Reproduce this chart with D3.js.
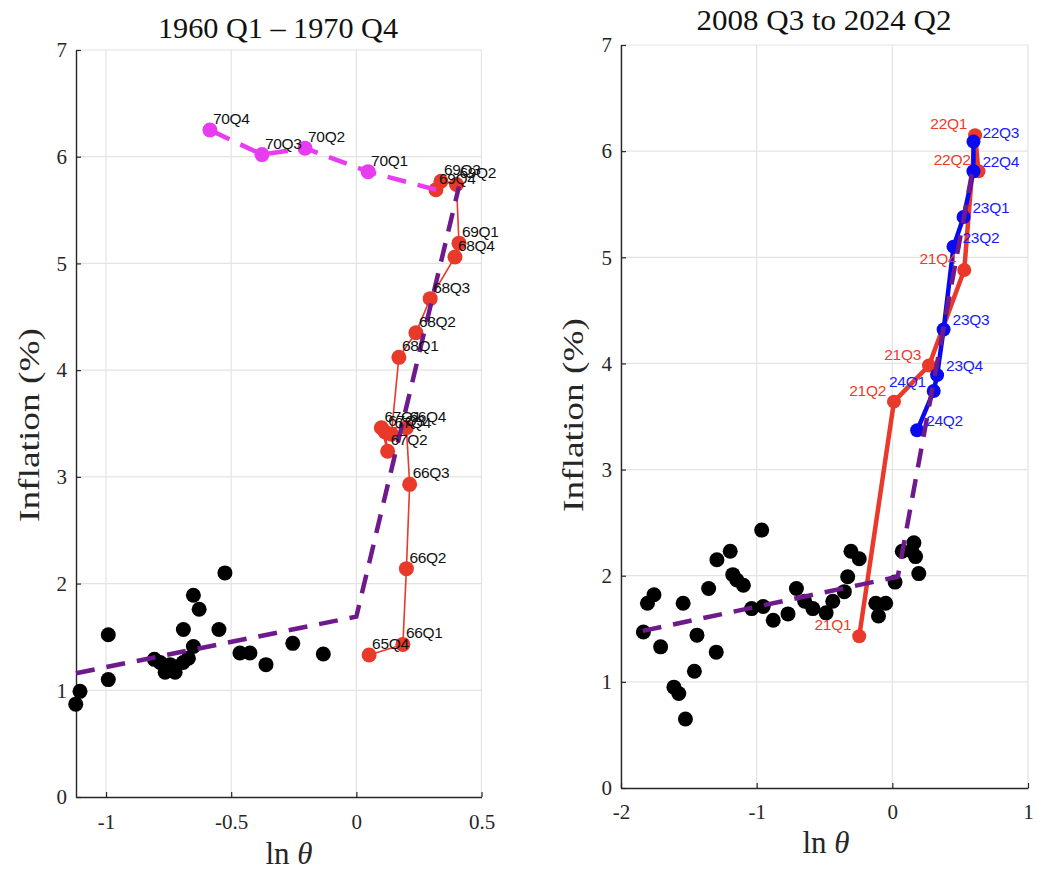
<!DOCTYPE html>
<html>
<head>
<meta charset="utf-8">
<script src="https://cdn.jsdelivr.net/npm/d3@7"></script>
<style>
  body { margin: 0; background: #fff; }
  svg { display: block; }
</style>
</head>
<body>
<div id="chart-container"></div>
<script>
(function () {
    'use strict';

    // ---- left panel data: 1960 Q1 - 1970 Q4 ----
    var leftBlackX = [-1.121, -1.104, -0.991, -0.991, -0.807, -0.764, -0.724, -0.744, -0.784, -0.692,
                      -0.691, -0.671, -0.651, -0.651, -0.628, -0.525, -0.549, -0.465, -0.425, -0.361,
                      -0.254, -0.132];
    var leftBlackY = [0.87, 0.99, 1.52, 1.10, 1.29, 1.17, 1.17, 1.24, 1.26, 1.26,
                      1.57, 1.30, 1.41, 1.89, 1.76, 2.10, 1.57, 1.35, 1.35, 1.24,
                      1.44, 1.34];

    var leftRedLabels = ['65Q4', '66Q1', '66Q2', '66Q3', '66Q4', '67Q1', '67Q2', '67Q3', '67Q4',
                         '68Q1', '68Q2', '68Q3', '68Q4', '69Q1', '69Q2', '69Q3', '69Q4'];
    var leftRedX = [0.051, 0.186, 0.200, 0.213, 0.200, 0.100, 0.125, 0.115, 0.140,
                    0.170, 0.238, 0.295, 0.394, 0.410, 0.400, 0.338, 0.318];
    var leftRedY = [1.33, 1.43, 2.14, 2.93, 3.46, 3.46, 3.24, 3.42, 3.40,
                    4.12, 4.35, 4.67, 5.06, 5.19, 5.74, 5.77, 5.69];

    // 1970 points, the dashed magenta path starts from 69Q4
    var leftMagLabels = ['70Q1', '70Q2', '70Q3', '70Q4'];
    var leftMagX = [0.047, -0.205, -0.377, -0.585];
    var leftMagY = [5.86, 6.08, 6.02, 6.25];

    var leftFitX = [-1.12, 0, 0.41];
    var leftFitY = [1.16, 1.69, 5.72];

    var leftXTicks = [-1, -0.5, 0, 0.5];
    var yTicks = [0, 1, 2, 3, 4, 5, 6, 7];

    // ---- right panel data: 2008 Q3 to 2024 Q2 ----
    var rightBlackX = [-1.835, -1.805, -1.757, -1.708, -1.610, -1.574, -1.525, -1.542, -1.440, -1.459,
                       -1.298, -1.354, -1.293, -1.195, -1.176, -1.098, -1.146, -0.963, -1.037, -0.952,
                       -0.878, -0.769, -0.707, -0.646, -0.586, -0.488, -0.439, -0.354, -0.329, -0.305,
                       -0.244, -0.122, -0.049, -0.102, 0.020, 0.073, 0.159, 0.171, 0.195, 0.144];
    var rightBlackY = [1.47, 1.74, 1.82, 1.33, 0.95, 0.89, 0.65, 1.74, 1.44, 1.10,
                       1.28, 1.88, 2.15, 2.23, 2.01, 1.91, 1.96, 2.43, 1.69, 1.71,
                       1.58, 1.64, 1.88, 1.76, 1.69, 1.65, 1.76, 1.85, 1.99, 2.23,
                       2.16, 1.74, 1.74, 1.62, 1.94, 2.23, 2.31, 2.18, 2.02, 2.23];

    var rightRedLabels = ['21Q1', '21Q2', '21Q3', '21Q4', '22Q1', '22Q2'];
    var rightRedX = [-0.244, 0.012, 0.270, 0.530, 0.610, 0.635];
    var rightRedY = [1.43, 3.64, 3.98, 4.88, 6.15, 5.81];

    var rightBlueLabels = ['22Q3', '22Q4', '23Q1', '23Q2', '23Q3', '23Q4', '24Q1', '24Q2'];
    var rightBlueX = [0.598, 0.598, 0.525, 0.451, 0.378, 0.330, 0.305, 0.183];
    var rightBlueY = [6.09, 5.81, 5.38, 5.10, 4.32, 3.89, 3.74, 3.37];
    var blueLabelsOnLeft = ['24Q1'];

    var rightFitX = [-1.84, 0.04, 0.6];
    var rightFitY = [1.48, 1.99, 5.88];

    var rightXTicks = [-2, -1, 0, 1];

    var RED = '#e8392a';
    var MAGENTA = '#e83cf0';
    var PURPLE = '#6e1a8c';
    var BLUE = '#0a0af0';

    var width = 1038;
    var height = 873;

    var svg = d3.select('#chart-container')
        .append('svg')
        .attr('width', width)
        .attr('height', height);

    function zip(xs, ys, labels) {
        return xs.map(function (x, i) {
            return { x: x, y: ys[i], label: labels ? labels[i] : null };
        });
    }

    function fmt(d) {
        return String(d).replace('\u2212', '-');
    }

    function drawPanel(p) {
        var x = d3.scaleLinear().domain(p.xDomain).range([p.left, p.right]);
        var y = d3.scaleLinear().domain([0, 7]).range([p.bottom, p.top]);
        var g = svg.append('g');

        // grid
        g.append('g').selectAll('line.vg')
            .data(p.xTicks).enter().append('line')
            .attr('x1', function (d) { return x(d); })
            .attr('x2', function (d) { return x(d); })
            .attr('y1', p.top).attr('y2', p.bottom)
            .style('stroke', '#e3e3e3').style('stroke-width', 1.2);
        g.append('g').selectAll('line.hg')
            .data(yTicks.slice(1)).enter().append('line')
            .attr('x1', p.left).attr('x2', p.right)
            .attr('y1', function (d) { return y(d); })
            .attr('y2', function (d) { return y(d); })
            .style('stroke', '#e3e3e3').style('stroke-width', 1.2);

        // axes
        var ax = g.append('g')
            .attr('transform', 'translate(0,' + p.bottom + ')')
            .call(d3.axisBottom(x).tickValues(p.xTicks).tickFormat(fmt)
                .tickSizeInner(-5).tickSizeOuter(0).tickPadding(p.xPad));
        var ay = g.append('g')
            .attr('transform', 'translate(' + p.left + ',0)')
            .call(d3.axisLeft(y).tickValues(yTicks).tickFormat(fmt)
                .tickSizeInner(-5).tickSizeOuter(0).tickPadding(9));
        [ax, ay].forEach(function (a) {
            a.select('.domain').style('stroke', '#262626').style('stroke-width', 1.4);
            a.selectAll('.tick line').style('stroke', '#262626').style('stroke-width', 1.2);
            a.selectAll('text')
                .style('font-family', '"Liberation Serif", serif')
                .style('font-size', '21px')
                .style('fill', '#262626');
        });

        // black points
        g.append('g').selectAll('circle')
            .data(zip(p.blackX, p.blackY)).enter().append('circle')
            .attr('cx', function (d) { return x(d.x); })
            .attr('cy', function (d) { return y(d.y); })
            .attr('r', 7.5)
            .style('fill', '#000');

        var line = d3.line()
            .x(function (d) { return x(d.x); })
            .y(function (d) { return y(d.y); });

        p.series.forEach(function (s) {
            var pts = zip(s.x, s.y, s.labels);
            var lg = g.append('g');
            if (s.pathLead) {
                lg.append('path')
                    .attr('d', line([s.pathLead].concat(pts)))
                    .style('fill', 'none')
                    .style('stroke', s.color)
                    .style('stroke-width', s.lineWidth)
                    .style('stroke-dasharray', s.dash || null);
            } else {
                lg.append('path')
                    .attr('d', line(pts))
                    .style('fill', 'none')
                    .style('stroke', s.color)
                    .style('stroke-width', s.lineWidth);
            }
            lg.selectAll('circle')
                .data(pts).enter().append('circle')
                .attr('cx', function (d) { return x(d.x); })
                .attr('cy', function (d) { return y(d.y); })
                .attr('r', s.r)
                .style('fill', s.color);
            s.pts = pts;
        });

        // piecewise fit
        g.append('path')
            .attr('d', line(zip(p.fitX, p.fitY)))
            .style('fill', 'none')
            .style('stroke', PURPLE)
            .style('stroke-width', 4.5)
            .style('stroke-dasharray', '19,12');

        // point labels
        p.series.forEach(function (s) {
            function onLeft(d) {
                return s.labelSide === 'left' || (s.leftSet && s.leftSet.indexOf(d.label) >= 0);
            }
            g.append('g').selectAll('text')
                .data(s.pts).enter().append('text')
                .attr('x', function (d) { return x(d.x) + (onLeft(d) ? -8 : s.labelDx); })
                .attr('y', function (d) { return y(d.y) + s.labelDy; })
                .attr('text-anchor', function (d) { return onLeft(d) ? 'end' : 'start'; })
                .style('font-family', '"Liberation Sans", Arial, sans-serif')
                .style('font-size', '15.5px')
                .style('letter-spacing', '-0.3px')
                .style('fill', s.labelColor)
                .text(function (d) { return d.label; });
        });

        // titles and axis labels
        svg.append('text')
            .attr('x', p.titleX).attr('y', p.titleY)
            .attr('text-anchor', 'middle')
            .attr('textLength', p.titleLen)
            .attr('lengthAdjust', 'spacingAndGlyphs')
            .style('font-family', '"Liberation Serif", serif')
            .style('font-size', '29px')
            .style('fill', '#111')
            .text(p.title);

        svg.append('text')
            .attr('transform', 'translate(' + p.ylabX + ',' + p.ylabY + ') rotate(-90)')
            .attr('text-anchor', 'middle')
            .attr('dy', '0.35em')
            .attr('textLength', 194)
            .attr('lengthAdjust', 'spacingAndGlyphs')
            .style('font-family', '"Liberation Serif", serif')
            .style('font-size', '30px')
            .style('fill', '#262626')
            .text('Inflation (%)');

        var xl = svg.append('text')
            .attr('x', p.xlabX).attr('y', p.xlabY)
            .attr('text-anchor', 'middle')
            .style('font-family', '"Liberation Serif", serif')
            .style('font-size', '31px')
            .style('fill', '#262626');
        xl.append('tspan').text('ln ');
        xl.append('tspan').style('font-style', 'italic').text('\u03b8');
    }

    drawPanel({
        left: 76, right: 481.5, top: 50, bottom: 797,
        xDomain: [-1.12, 0.5],
        xTicks: leftXTicks, xPad: 17,
        blackX: leftBlackX, blackY: leftBlackY,
        fitX: leftFitX, fitY: leftFitY,
        series: [
            { x: leftRedX, y: leftRedY, labels: leftRedLabels, color: RED, lineWidth: 1.6, r: 7.5,
              labelColor: '#111', labelDx: 3, labelDy: -6 },
            { x: leftMagX, y: leftMagY, labels: leftMagLabels, color: MAGENTA, lineWidth: 4.5, r: 7.5,
              dash: '19,12',
              pathLead: { x: leftRedX[leftRedX.length - 1], y: leftRedY[leftRedY.length - 1] },
              labelColor: '#111', labelDx: 3, labelDy: -6 }
        ],
        title: '1960 Q1 \u2013 1970 Q4', titleX: 278, titleY: 38, titleLen: 240,
        ylabX: 28, ylabY: 425,
        xlabX: 289, xlabY: 864
    });

    drawPanel({
        left: 621, right: 1028, top: 45, bottom: 788,
        xDomain: [-2, 1],
        xTicks: rightXTicks, xPad: 16,
        blackX: rightBlackX, blackY: rightBlackY,
        fitX: rightFitX, fitY: rightFitY,
        series: [
            { x: rightRedX, y: rightRedY, labels: rightRedLabels, color: RED, lineWidth: 4.5, r: 7,
              labelColor: '#f03a2a', labelSide: 'left', labelDx: -8, labelDy: -6 },
            { x: rightBlueX, y: rightBlueY, labels: rightBlueLabels, color: BLUE, lineWidth: 4.5, r: 7,
              leftSet: blueLabelsOnLeft,
              labelColor: '#1a1aff', labelDx: 9, labelDy: -4 }
        ],
        title: '2008 Q3 to 2024 Q2', titleX: 824, titleY: 30, titleLen: 255,
        ylabX: 572, ylabY: 415,
        xlabX: 826, xlabY: 853
    });
}());
</script>
</body>
</html>
